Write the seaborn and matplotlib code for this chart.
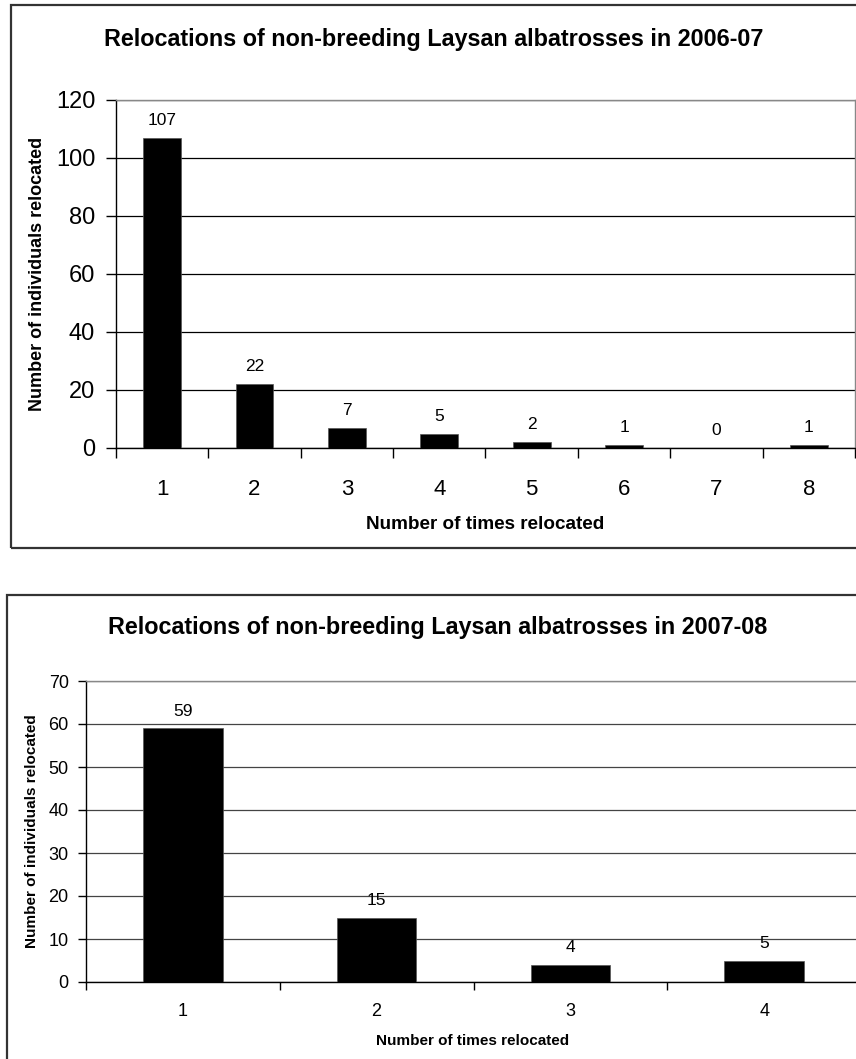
import matplotlib
matplotlib.use("Agg")
import matplotlib.pyplot as plt
import matplotlib.patches as mpatches
from matplotlib.ticker import FixedLocator
import seaborn as sns
import pandas as pd
import numpy as np

# Relocation counts per season
times_0607 = ["1", "2", "3", "4", "5", "6", "7", "8"]
birds_0607 = [107, 22, 7, 5, 2, 1, 0, 1]
yticks_0607 = [0, 20, 40, 60, 80, 100, 120]

times_0708 = ["1", "2", "3", "4"]
birds_0708 = [59, 15, 4, 5]
yticks_0708 = [0, 10, 20, 30, 40, 50, 60, 70]

title_0607 = "Relocations of non-breeding Laysan albatrosses in 2006-07"
title_0708 = "Relocations of non-breeding Laysan albatrosses in 2007-08"
xlabel = "Number of times relocated"
ylabel = "Number of individuals relocated"

sns.set_theme(style="white")
plt.rcParams["font.family"] = ["Liberation Sans", "DejaVu Sans"]

W, H = 856, 1059
fig = plt.figure(figsize=(W / 100, H / 100), dpi=100)


def fx(px):
    return px / W


def fy(py):
    return 1 - py / H


def panel(rect_px, frame_px, cats, vals, yticks, title, title_pos,
          ytick_fs, xtick_fs, val_fs, lab_fs, ylab_fs, xlab_pos, ylab_pos,
          grid_color, tick_len, ytick_pad, xtick_pad):
    # outer chart frame
    fx0, fy0, fx1, fy1 = frame_px
    fig.patches.append(mpatches.Rectangle(
        (fx(fx0), fy(fy1)), fx(fx1 - fx0), (fy1 - fy0) / H,
        transform=fig.transFigure, fill=False, edgecolor="#333333",
        linewidth=1.6, zorder=0))

    x0, y0, x1, y1 = rect_px
    ax = fig.add_axes([fx(x0), fy(y1), fx(x1 - x0), (y1 - y0) / H])
    df = pd.DataFrame({"times": cats, "birds": vals})
    sns.barplot(data=df, x="times", y="birds", order=cats, color="black",
                width=0.41, saturation=1, ax=ax, edgecolor="#555555",
                linewidth=0.5, zorder=3)
    n = len(cats)
    ax.set_xlim(-0.5, n - 0.5)
    ax.set_ylim(yticks[0], yticks[-1])
    ax.set_yticks(yticks)
    ax.yaxis.grid(True, color=grid_color, linewidth=0.9)
    ax.xaxis.grid(False)
    ax.set_axisbelow(True)

    for s in ["left", "bottom"]:
        ax.spines[s].set_color("black")
        ax.spines[s].set_linewidth(1.0)
    for s in ["top", "right"]:
        ax.spines[s].set_color("#888888")
        ax.spines[s].set_linewidth(1.0)

    ax.tick_params(axis="y", direction="out", length=tick_len, width=1,
                   color="black", left=True, labelsize=ytick_fs,
                   pad=ytick_pad, labelcolor="black")
    ax.tick_params(axis="x", which="major", length=0, labelsize=xtick_fs,
                   pad=xtick_pad, labelcolor="black")
    ax.xaxis.set_minor_locator(FixedLocator(np.arange(-0.5, n, 1.0)))
    ax.tick_params(axis="x", which="minor", direction="out", length=tick_len,
                   width=1, color="black", bottom=True)
    ax.set_xlabel("")
    ax.set_ylabel("")

    for i, v in enumerate(vals):
        ax.annotate(f"{v}", (i, v), xytext=(0, 7), textcoords="offset points",
                    ha="center", va="bottom", fontsize=val_fs, color="black")

    fig.text(fx(title_pos[0]), fy(title_pos[1]), title, ha="center",
             va="baseline", fontsize=16.8, fontweight="bold", color="black")
    fig.text(fx(xlab_pos[0]), fy(xlab_pos[1]), xlabel, ha="center",
             va="baseline", fontsize=lab_fs, fontweight="bold", color="black")
    fig.text(fx(ylab_pos[0]), fy(ylab_pos[1]), ylabel, ha="center",
             va="center", rotation=90, fontsize=ylab_fs, fontweight="bold",
             color="black")
    return ax


panel((116, 100, 855, 448), (11, 5, 870, 548), times_0607, birds_0607,
      yticks_0607, title_0607, (434, 46), ytick_fs=17, xtick_fs=16,
      val_fs=12.5, lab_fs=13.6, ylab_fs=13, xlab_pos=(485, 529),
      ylab_pos=(38, 274), grid_color="black", tick_len=7, ytick_pad=8,
      xtick_pad=22)

panel((86, 681, 861, 982), (7, 595, 870, 1070), times_0708, birds_0708,
      yticks_0708, title_0708, (438, 634), ytick_fs=13, xtick_fs=13,
      val_fs=12.5, lab_fs=11, ylab_fs=11, xlab_pos=(473, 1045),
      ylab_pos=(32, 831), grid_color="#444444", tick_len=6, ytick_pad=6.5,
      xtick_pad=15)

fig.savefig("out.png", dpi=100, facecolor="white")
